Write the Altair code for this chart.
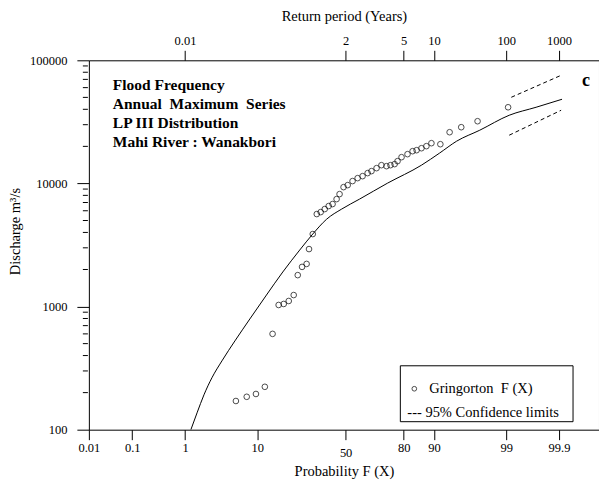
import altair as alt
import pandas as pd
from statistics import NormalDist

# ---------------- data ----------------
# observed annual maxima (Gringorton plotting positions, % non-exceedance)
obs_prob = [5.6, 7.6, 9.7, 12.1, 14.5, 16.6, 18.5, 20.5, 22.6, 24.4, 26.4, 28.6,
            29.8, 31.7, 33.8, 35.9, 38.1, 40.3, 42.5, 44.8, 46.5, 48.8, 51.2, 54.0,
            56.9, 59.7, 62.5, 64.6, 67.3, 69.8, 72.3, 74.2, 76.1, 77.4, 79.1, 81.5,
            83.4, 84.8, 86.4, 87.9, 89.3, 91.5, 93.4, 95.3, 97.2, 99.07]
obs_q = [171, 185, 195, 223, 600, 1030, 1050, 1110, 1240, 1800, 2100, 2220,
         2930, 3880, 5640, 5850, 6190, 6550, 6800, 7460, 8190, 9330, 9690, 10450,
         11040, 11460, 12130, 12590, 13310, 14070, 13810, 14070, 14350, 15170, 16340, 17290,
         18280, 18620, 19320, 20080, 21230, 20830, 26060, 28620, 32010, 41560]

# fitted LP III curve
fit_prob = [1.25, 1.57, 2.01, 2.64, 3.66, 5.44, 8.27, 12.38, 18.14, 25.3, 31.7,
            39.2, 47.7, 58.0, 72.8, 86.4, 91.3, 94.6, 97.4, 99.11, 99.71, 99.914]
fit_q = [100, 137, 192, 264, 362, 526, 793, 1219, 1909, 2877, 3880,
         5130, 6190, 7460, 10050, 14070, 17620, 22030, 27060, 35800, 41560, 48270]

# 95% confidence limits
cl_upper_prob = [99.18, 99.91]
cl_upper_q = [50100, 75560]
cl_lower_prob = [99.11, 99.91]
cl_lower_q = [24650, 39300]

# axis ticks
bottom_tick_prob = [0.01, 0.1, 1, 10, 50, 80, 90, 99, 99.9]
bottom_tick_labels = ["0.01", "0.1", "1", "10", "50", "80", "90", "99", "99.9"]
top_tick_prob = [1, 50, 80, 90, 99, 99.9]
top_tick_labels = ["0.01", "2", "5", "10", "100", "1000"]
y_major = [100, 1000, 10000, 100000]
y_minor = [m * d for d in (100, 1000, 10000) for m in range(2, 10)]

NB = "\u00a0"
annotation_lines = ["Flood Frequency", f"Annual {NB}Maximum {NB}Series",
                    "LP III Distribution", "Mahi River : Wanakbori"]
legend_points_label = f"Gringorton {NB}F (X)"
legend_cl_label = "--- 95% Confidence limits"
panel_letter = "c"

# ---------------- helpers ----------------
nd = NormalDist()


def zq(p):
    return nd.inv_cdf(p / 100.0)


def label_expr(probs, labels):
    expr = "''"
    for p, lab in zip(reversed(probs), reversed(labels)):
        expr = f"abs(datum.value - ({zq(p):.6f})) < 0.001 ? '{lab}' : " + expr
    return expr


FONT = "Liberation Serif"
x_scale = alt.Scale(domain=[zq(0.01), 3.67], nice=False, zero=False)
y_scale = alt.Scale(type="log", domain=[100, 100000], nice=False)
ZCALC = "quantileNormal(datum.prob / 100)"

bottom_axis = alt.Axis(
    orient="bottom", values=[zq(p) for p in bottom_tick_prob],
    labelExpr=label_expr(bottom_tick_prob, bottom_tick_labels),
    title="Probability F (X)", domain=False, grid=False, tickSize=10,
    labelFlush=False, labelOverlap=False, labelFontSize=12.5,
    labelPadding={"condition": {"test": "abs(datum.value) < 0.001", "value": 7}, "value": 2},
    titleFontSize=14.5, titlePadding=5)

top_axis = alt.Axis(
    orient="top", values=[zq(p) for p in top_tick_prob],
    labelExpr=label_expr(top_tick_prob, top_tick_labels),
    title="Return period (Years)", domain=False, grid=False, tickSize=10,
    labelFlush=False, labelOverlap=False, labelFontSize=12.5, labelPadding=3,
    titleFontSize=14.5, titlePadding=11)

left_axis = alt.Axis(
    orient="left", values=y_major, format="d", title="Discharge m\u00b3/s",
    domain=False, grid=False, tickSize=12, labelPadding=10, labelFontSize=12.5,
    labelFlush=False, labelOverlap=False, titleFontSize=14.5,
    titleX=-66, titleY=171, titleBaseline="bottom", titleAngle=270)

obs_df = pd.DataFrame({"prob": obs_prob, "q": obs_q})
fit_df = pd.DataFrame({"prob": fit_prob, "q": fit_q})
up_df = pd.DataFrame({"prob": cl_upper_prob, "q": cl_upper_q})
lo_df = pd.DataFrame({"prob": cl_lower_prob, "q": cl_lower_q})
minor_df = pd.DataFrame({"q": y_minor})

points = alt.Chart(obs_df).transform_calculate(z=ZCALC).mark_point(
    shape="circle", filled=False, color="black", size=32, strokeWidth=1
).encode(
    x=alt.X("z:Q", scale=x_scale, axis=bottom_axis),
    y=alt.Y("q:Q", scale=y_scale, axis=left_axis),
)

fit = alt.Chart(fit_df).transform_calculate(z=ZCALC).mark_line(
    color="black", strokeWidth=1, clip=True, interpolate="monotone"
).encode(
    x=alt.X("z:Q", scale=x_scale, axis=top_axis),
    y=alt.Y("q:Q", scale=y_scale, axis=None),
)

# minor ticks of the logarithmic discharge axis
minor_ticks = alt.Chart(minor_df).mark_rule(
    color="black", strokeWidth=1
).encode(
    x=alt.value(-6), x2=alt.value(-1),
    y=alt.Y("q:Q", scale=y_scale, axis=None),
)


def dashed(df):
    return alt.Chart(df).transform_calculate(z=ZCALC).mark_line(
        color="black", strokeWidth=1, strokeDash=[4, 3]
    ).encode(
        x=alt.X("z:Q", scale=x_scale, axis=None),
        y=alt.Y("q:Q", scale=y_scale, axis=None),
    )


upper = dashed(up_df)
lower = dashed(lo_df)

one = pd.DataFrame({"a": [0]})

annot = alt.Chart(one).mark_text(
    font=FONT, fontSize=15.5, fontWeight="bold", align="left",
    baseline="alphabetic", lineHeight=19, color="black"
).encode(x=alt.value(24), y=alt.value(30), text=alt.value(annotation_lines))

letter = alt.Chart(one).mark_text(
    font=FONT, fontSize=18, fontWeight="bold", align="center",
    baseline="middle", color="black"
).encode(x=alt.value(498), y=alt.value(21), text=alt.value(panel_letter))

legend_box = alt.Chart(one).mark_rect(
    fill="white", stroke="black", strokeWidth=1
).encode(x=alt.value(312), x2=alt.value(485), y=alt.value(306), y2=alt.value(362))

legend_sym = alt.Chart(one).mark_point(
    shape="circle", filled=False, color="black", size=22, strokeWidth=1
).encode(x=alt.value(326), y=alt.value(329))

legend_t1 = alt.Chart(one).mark_text(
    font=FONT, fontSize=14.5, align="left", baseline="middle", color="black"
).encode(x=alt.value(341), y=alt.value(329), text=alt.value(legend_points_label))

legend_t2 = alt.Chart(one).mark_text(
    font=FONT, fontSize=14.5, align="left", baseline="middle", color="black"
).encode(x=alt.value(319), y=alt.value(353), text=alt.value(legend_cl_label))

chart = alt.layer(
    points, fit, minor_ticks, upper, lower, annot, letter,
    legend_box, legend_sym, legend_t1, legend_t2
).resolve_axis(
    x="independent", y="independent"
).properties(
    width=511, height=370, autosize="none",
    padding={"left": 81, "top": 52, "right": 0, "bottom": 50},
    background="white",
).configure_view(
    stroke="black", strokeWidth=1
).configure_axis(
    labelFont=FONT, titleFont=FONT, labelColor="black", titleColor="black",
    tickColor="black", tickWidth=1, titleFontWeight="normal"
)

chart.save("out.html", embed_options={"renderer": "svg", "actions": False})
